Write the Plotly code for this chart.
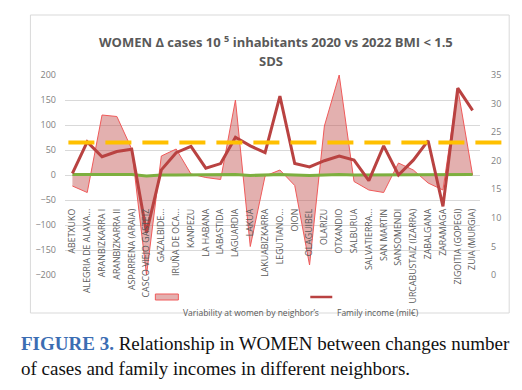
import plotly.graph_objects as go

# ---------------- data ----------------
neighborhoods = ["ABETXUKO", "ALEGRIA DE ALAVA...", "ARANBIZKARRA I", "ARANBIZKARRA II",
                 "ASPARRENA (ARAIA)", "CASCO VIEJO GASTEIZ", "GAZALBIDE...", "IRUÑA DE OCA...",
                 "KANPEZU", "LA HABANA", "LABASTIDA", "LAGUARDIA", "LAKUA", "LAKUABIZKARRA",
                 "LEGUTIANO...", "OION", "OLAGUIBEL", "OLARIZU", "OTXANDIO", "SALBURUA",
                 "SALVATIERRA...", "SAN MARTIN", "SANSOMENDI", "URCABUSTAIZ (IZARRA)",
                 "ZABALGANA", "ZARAMAGA", "ZIGOITIA (GOPEGI)", "ZUIA (MURGIA)"]

variability_women = [-22, -35, 120, 117, 52, -200, 38, 52, 2, -5, -9, 150, -143, -2,
                     10, -21, -180, 98, 200, -13, -30, -35, 24, 10, -16, -30, 173, 0]

family_income = [17.8, 23.3, 20.7, 21.6, 22.0, 7.4, 18.4, 21.4, 22.5, 18.7, 19.5, 24.1,
                 22.6, 21.4, 31.3, 19.5, 18.9, 20.0, 20.8, 20.1, 16.5, 22.6, 17.5, 20.1,
                 23.5, 12.0, 32.7, 28.8]

baseline_series = [1, 1, 1, 1, 1, -2, 0, 0, 0, 0, 0, 1, -1, 0, 1, 0, -1, 0, 1, 0,
                   0, 0, 0, 0, 0, 0, 1, 1]

income_reference = 23.2

left_ticks = [-200, -150, -100, -50, 0, 50, 100, 150, 200]
right_ticks = [0, 5, 10, 15, 20, 25, 30, 35]

title_line1 = "WOMEN Δ cases 10 <sup>5</sup> inhabitants 2020 vs 2022 BMI < 1.5"
title_line2 = "SDS"
legend_area = "Variability at women by neighbor’s"
legend_line = "Family income (mil€)"
caption_1 = "<b>FIGURE 3.</b>"
caption_1b = " Relationship in WOMEN between changes number"
caption_2 = "of cases and family incomes in different neighbors."

# ---------------- styles ----------------
AREA_FILL = "rgba(192,80,77,0.45)"
AREA_LINE = "#F05A5A"
INCOME_COL = "#B94241"
GREEN_COL = "#7DAF3F"
ORANGE_COL = "#FFC000"
TXT_GRAY = "#595959"
TICK_GRAY = "#7F7F7F"
SANS = "Open Sans"
SERIF = "Liberation Serif"

OFF = 8  # page body margin of the html page
W, H = 522 - 2 * OFF, 390 - 2 * OFF
PL, PR, PT, PB = 64.6, 479.8, 75, 275   # plot area in page pixels
L, R, T, B = PL - OFF, W - (PR - OFF), PT - OFF, H - (PB - OFF)
pw, ph = PR - PL, PB - PT


def px(x):
    return (x - PL) / pw


def py(y):
    return (PB - y) / ph


fig = go.Figure()

fig.add_trace(go.Scatter(x=neighborhoods, y=variability_women, mode="lines",
                         fill="tozeroy", fillcolor=AREA_FILL,
                         line=dict(color=AREA_LINE, width=1),
                         name=legend_area, showlegend=False))
fig.add_trace(go.Scatter(x=neighborhoods, y=baseline_series, mode="lines",
                         line=dict(color=GREEN_COL, width=3),
                         showlegend=False))
fig.add_trace(go.Scatter(x=neighborhoods, y=family_income, yaxis="y2", mode="lines",
                         line=dict(color=INCOME_COL, width=3),
                         name=legend_line, showlegend=False))

shapes = [
    dict(type="rect", xref="paper", yref="paper", x0=px(30), x1=px(509), y0=py(313), y1=py(15),
         line=dict(color="#D9D9D9", width=1), fillcolor="rgba(0,0,0,0)", layer="below"),
    dict(type="line", xref="paper", yref="y2", x0=px(68), x1=px(503),
         y0=income_reference, y1=income_reference,
         line=dict(color=ORANGE_COL, width=4, dash="26px,11px")),
    dict(type="rect", xref="paper", yref="paper", x0=px(155), x1=px(178), y0=py(300), y1=py(294),
         line=dict(color=AREA_LINE, width=1), fillcolor=AREA_FILL),
    dict(type="line", xref="paper", yref="paper", x0=px(310), x1=px(332), y0=py(297), y1=py(297),
         line=dict(color=INCOME_COL, width=2.5)),
]

annotations = [
    dict(text=f"<b>{title_line1}</b>", x=px(276), y=py(41), xref="paper", yref="paper", showarrow=False,
         font=dict(family=SANS, size=13, color=TXT_GRAY), xanchor="center", yanchor="middle"),
    dict(text=f"<b>{title_line2}</b>", x=px(271), y=py(61), xref="paper", yref="paper", showarrow=False,
         font=dict(family=SANS, size=13, color=TXT_GRAY), xanchor="center", yanchor="middle"),
    dict(text=legend_area, x=px(251), y=py(312), xref="paper", yref="paper", showarrow=False,
         font=dict(family=SANS, size=8.5, color=TXT_GRAY), xanchor="center", yanchor="middle"),
    dict(text=legend_line, x=px(335), y=py(312), xref="paper", yref="paper", showarrow=False,
         font=dict(family=SANS, size=8.5, color=TXT_GRAY), xanchor="left", yanchor="middle"),
    dict(text=f"<span style='color:#3B6DB3'>{caption_1}</span>{caption_1b}", x=px(19), y=py(343),
         xref="paper", yref="paper", showarrow=False, xanchor="left", yanchor="middle",
         font=dict(family=SERIF, size=19, color="#111111")),
    dict(text=caption_2, x=px(19), y=py(368), xref="paper", yref="paper", showarrow=False,
         xanchor="left", yanchor="middle", font=dict(family=SERIF, size=19, color="#111111")),
]

fig.update_layout(
    width=W, height=H,
    margin=dict(l=L, r=R, t=T, b=B, pad=0),
    paper_bgcolor="white", plot_bgcolor="white",
    showlegend=False,
    shapes=shapes, annotations=annotations,
    xaxis=dict(type="category", range=[-0.5, len(neighborhoods) - 0.5], anchor="free",
               position=0.345, tickangle=-90, showgrid=False, showline=False, zeroline=False,
               ticks="", tickfont=dict(family=SANS, size=8.8, color=TXT_GRAY)),
    yaxis=dict(range=[-200, 200], tickvals=left_ticks, showgrid=True, gridcolor="#D9D9D9",
               gridwidth=1, zeroline=False, showline=False, ticks="", ticklabelstandoff=8,
               tickfont=dict(family=SANS, size=9, color=TICK_GRAY)),
    yaxis2=dict(range=[0, 35], tickvals=right_ticks, overlaying="y", side="right",
                showgrid=False, zeroline=False, showline=False, ticks="", ticklabelstandoff=10,
                tickfont=dict(family=SANS, size=9, color=TICK_GRAY)),
)

fig.write_html("out.html")
